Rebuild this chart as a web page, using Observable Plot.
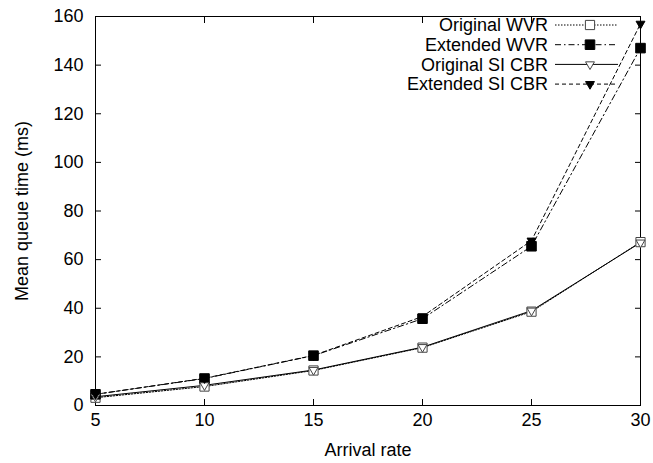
<!DOCTYPE html>
<html><head><meta charset="utf-8">
<script src="https://cdn.jsdelivr.net/npm/d3@7"></script>
<script src="https://cdn.jsdelivr.net/npm/@observablehq/plot@0.6"></script>
<style>body{margin:0;background:#fff;} #c{position:relative;width:653px;height:463px;}</style>
</head><body><div id="c"></div>
<script>
const arrivalRate = [5, 10, 15, 20, 25, 30];
const originalWVR = [3.2, 7.8, 14.4, 23.8, 38.6, 67.2];
const extendedWVR = [4.6, 11.1, 20.5, 35.7, 65.5, 147];
const originalSICBR = [3.6, 8.3, 14.6, 24.0, 39.0, 67.0];
const extendedSICBR = [4.6, 11.2, 20.6, 36.6, 67.8, 157];
const seriesNames = ["Original WVR", "Extended WVR", "Original SI CBR", "Extended SI CBR"];
const xTicks = [5, 10, 15, 20, 25, 30];
const yTicks = [0, 20, 40, 60, 80, 100, 120, 140, 160];

const seriesValues = [originalWVR, extendedWVR, originalSICBR, extendedSICBR];
const styles = [
  {dash: "1.5,1.5", symbol: "square", fill: "white", stroke: "#444", rotate: 0, r: 5.2},
  {dash: "6,3,1.5,3", symbol: "square", fill: "black", stroke: "black", rotate: 0, r: 5.4},
  {dash: null, symbol: "triangle", fill: "white", stroke: "#444", rotate: 180, r: 3.3},
  {dash: "4,3", symbol: "triangle", fill: "black", stroke: "black", rotate: 180, r: 3.3}
];
const rows = [];
seriesNames.forEach((s, i) => arrivalRate.forEach((x, j) => rows.push({series: s, x, y: seriesValues[i][j], i})));

const marks = [
  Plot.frame({stroke: "black", strokeWidth: 1}),
  Plot.axisX(xTicks, {tickSize: 0, tickPadding: 8, label: "Arrival rate", labelAnchor: "center", labelOffset: 50, labelArrow: "none"}),
  Plot.axisX(xTicks, {tickSize: -6, text: null, label: null}),
  Plot.axisX(xTicks, {anchor: "top", tickSize: -6, text: null, label: null}),
  Plot.axisY(yTicks, {tickSize: 0, tickPadding: 12, label: "Mean queue time (ms)", labelAnchor: "center", labelOffset: 80, labelArrow: "none"}),
  Plot.axisY(yTicks, {tickSize: -6, text: null, label: null}),
  Plot.axisY(yTicks, {anchor: "right", tickSize: -6, text: null, label: null})
];
seriesNames.forEach((s, i) => {
  const d = rows.filter(r => r.i === i);
  const st = styles[i];
  marks.push(Plot.line(d, {x: "x", y: "y", stroke: "black", strokeWidth: 1, strokeDasharray: st.dash}));
});
seriesNames.forEach((s, i) => {
  const d = rows.filter(r => r.i === i);
  const st = styles[i];
  marks.push(Plot.dot(d, {x: "x", y: "y", symbol: () => st.symbol, r: st.r, fill: st.fill, stroke: st.stroke, strokeWidth: 1, rotate: st.rotate}));
});

const chart = Plot.plot({
  width: 653, height: 463,
  marginLeft: 95, marginRight: 13, marginTop: 16, marginBottom: 58,
  style: {fontFamily: "'Liberation Sans', Arial, sans-serif", fontSize: "18px", color: "black", background: "white"},
  x: {domain: [5, 30]},
  y: {domain: [0, 160]},
  symbol: {type: "identity"},
  marks
});
document.getElementById("c").appendChild(chart);

// legend
const svg = d3.select(chart);
const lg = svg.append("g").attr("font-family", "'Liberation Sans', Arial, sans-serif").attr("font-size", 18);
seriesNames.forEach((s, i) => {
  const st = styles[i];
  const yy = 25 + i * 19.7;
  lg.append("text").attr("x", 548).attr("y", yy).attr("dy", "0.35em").attr("text-anchor", "end").attr("fill", "black").text(s);
  lg.append("line").attr("x1", 555).attr("x2", 618).attr("y1", yy).attr("y2", yy).attr("stroke", "black").attr("stroke-width", 1).attr("stroke-dasharray", st.dash);
  const sym = st.symbol === "square" ? d3.symbolSquare : d3.symbolTriangle;
  const size = Math.PI * st.r * st.r;
  lg.append("path").attr("d", d3.symbol(sym, size)()).attr("transform", `translate(590,${yy}) rotate(${st.rotate})`)
    .attr("fill", st.fill).attr("stroke", st.stroke);
});
</script></body></html>
